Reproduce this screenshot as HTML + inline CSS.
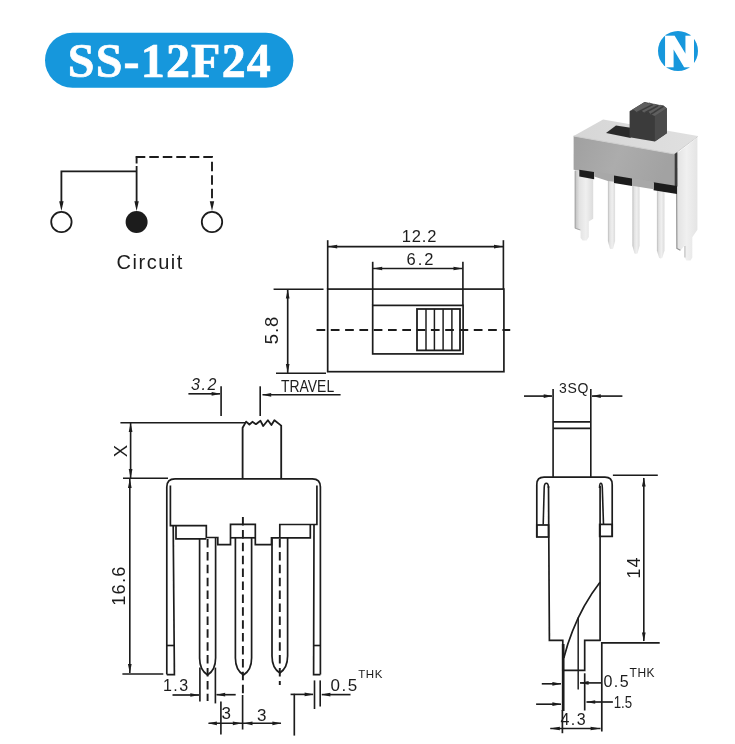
<!DOCTYPE html>
<html lang="en">
<head>
<meta charset="utf-8">
<title>SS-12F24</title>
<style>
html,body{margin:0;padding:0;background:#fff;}
body{width:735px;height:744px;overflow:hidden;position:relative;font-family:"Liberation Sans",Arial,sans-serif;}
svg{position:absolute;left:0;top:0;display:block;}
svg text{font-family:"Liberation Sans",Arial,sans-serif;}
</style>
</head>
<body>
<svg width="735" height="744" viewBox="0 0 735 744" stroke="#1c1c1c" fill="none" stroke-linecap="butt" stroke-linejoin="miter">
<defs><filter id="jp" x="0" y="0" width="735" height="744" filterUnits="userSpaceOnUse"><feGaussianBlur stdDeviation="0.35"/></filter></defs>
<g filter="url(#jp)">
<rect x="45" y="32.8" width="248.4" height="55" rx="27.5" ry="27.5" fill="#1597dc" stroke="none"/>
<text x="169.9" y="76.5" text-anchor="middle" stroke="#fff" stroke-width="0.7" fill="#fff" style="font-family:'Liberation Serif',serif;font-weight:bold;font-size:48px;letter-spacing:1.2px;">SS-12F24</text>
<circle cx="678" cy="51" r="20" fill="#1597dc" stroke="none"/>
<text transform="translate(679.6 66.4) scale(1.04 1)" x="0" y="0" text-anchor="middle" stroke="#fff" stroke-width="2.7" stroke-linejoin="miter" fill="#fff" style="font-family:'Liberation Sans',sans-serif;font-weight:bold;font-size:42.7px;">N</text>
<defs>
<filter id="soft" x="-5%" y="-5%" width="110%" height="110%"><feGaussianBlur stdDeviation="0.55"/></filter>
<linearGradient id="gFront" x1="0" y1="0" x2="1" y2="0.2">
<stop offset="0" stop-color="#a0a0a0"/><stop offset="0.5" stop-color="#acacac"/><stop offset="1" stop-color="#a2a2a2"/></linearGradient>
<linearGradient id="gTop" x1="0" y1="0" x2="1" y2="0">
<stop offset="0" stop-color="#d6d6d6"/><stop offset="1" stop-color="#e0e0e0"/></linearGradient>
<linearGradient id="gPin" x1="0" y1="0" x2="1" y2="0">
<stop offset="0" stop-color="#bdbdbd"/><stop offset="0.25" stop-color="#e2e2e2"/><stop offset="0.6" stop-color="#efefef"/><stop offset="1" stop-color="#dcdcdc"/></linearGradient>
<linearGradient id="gSide" x1="0" y1="0" x2="1" y2="0">
<stop offset="0" stop-color="#e0e0e0"/><stop offset="0.5" stop-color="#f0f0f0"/><stop offset="1" stop-color="#e4e4e4"/></linearGradient>
</defs>
<g filter="url(#soft)" stroke="none">
<polygon points="675.6,154.5 697.4,137.5 697.4,229.7 692.3,237.3 692.3,257.5 690.6,260.6 686.4,260.6 684.8,257.5 684.8,245.2 680.5,250.6 676.4,248.6" fill="url(#gSide)"/>
<polyline points="676.6,168.0 676.9,248.4 680.4,250.2" fill="none" stroke="#909090" stroke-width="1.1"/>
<polyline points="684.9,246.0 684.9,257.5" fill="none" stroke="#b0b0b0" stroke-width="0.9"/>
<polygon points="574.8,170.3 593.2,173.0 593.2,218.8 588.8,221.6 588.8,237.0 586.6,240.6 582.6,240.6 580.6,238.0 580.6,230.2 574.8,228.4" fill="url(#gPin)"/>
<polyline points="575.2,171.0 575.2,228.2 580.4,230.0" fill="none" stroke="#a6a6a6" stroke-width="1"/>
<path d="M607.9 178 H615.1 V241 L613.1 248.4 Q611.5 249.6 609.9 248.4 L607.9 241 Z" fill="url(#gPin)"/>
<path d="M632.4 183 H639.6 V245.8 L637.6 253.20000000000002 Q636.0 254.4 634.4 253.20000000000002 L632.4 245.8 Z" fill="url(#gPin)"/>
<path d="M656.9 188 H664.5 V250.39999999999998 L662.3000000000001 257.79999999999995 Q660.7 259.0 659.1 257.79999999999995 L656.9 250.39999999999998 Z" fill="url(#gPin)"/>
<polygon points="573.6,136.0 603.1,119.4 697.8,136.0 674.5,154.4" fill="url(#gTop)"/>
<polygon points="573.6,136.0 674.5,154.0 674.5,186.4 573.6,169.7" fill="url(#gFront)"/>
<polyline points="573.6,136.0 674.5,154.0 697.8,136.5" fill="none" stroke="#cfcfcf" stroke-width="1"/>
<polygon points="674.5,154.0 677.4,152.1 677.4,186.4 674.5,186.4" fill="#3a3a3a"/>
<polygon points="579.3,169.7 594.1,172.1 594.1,179.2 579.3,176.5" fill="#1e1e1e"/>
<polygon points="614.0,175.4 632.0,178.4 632.0,186.0 614.0,183.0" fill="#1e1e1e"/>
<polygon points="653.6,182.2 677.0,186.0 677.0,194.0 653.6,190.2" fill="#1e1e1e"/>
<polygon points="594.1,171.2 614.0,174.6 614.0,181.7 607.9,181.1 594.1,176.5" fill="#a8a8a8"/>
<polygon points="632.0,177.9 653.6,181.7 653.6,189.3 632.0,185.7" fill="#a8a8a8"/>
<polygon points="606.0,133.1 616.0,125.5 630.7,127.8 630.7,137.9" fill="#2c2c2c"/>
<polygon points="629.6,111.3 644.6,101.9 663.6,105.7 666.8,108.3 666.8,133.3 654.8,141.6 629.6,137.2" fill="#3a3a3a"/>
<polygon points="654.8,115.7 666.8,108.3 666.8,133.3 654.8,141.6" fill="#4b4b4b"/>
<polygon points="629.6,111.3 644.6,101.9 647.6,103.5 649.7,102.6 652.7,104.6 654.8,103.7 657.9,105.7 660.1,104.8 663.6,105.7 666.8,108.3 654.8,115.9 650.8,114.4 648.1,111.3 644.6,113.0 641.0,110.2 637.2,112.4 633.7,109.7" fill="#5e5e5e"/>
<polyline points="637.2,112.4 652.7,104.6" fill="none" stroke="#3c3c3c" stroke-width="1.6"/>
<polyline points="644.6,113.0 657.9,105.7" fill="none" stroke="#3c3c3c" stroke-width="1.6"/>
<polyline points="650.8,114.4 663.6,106.1" fill="none" stroke="#3c3c3c" stroke-width="1.6"/>
</g>
<circle cx="61.4" cy="222" r="10.2" fill="#fff" stroke-width="1.8"/>
<circle cx="136.6" cy="222" r="11" fill="#1c1c1c" stroke="none"/>
<circle cx="212" cy="222" r="10.2" fill="#fff" stroke-width="1.8"/>
<path d="M61.4 205 V171.4 H136.6" stroke-width="1.81" fill="none"/>
<line x1="136.6" y1="166" x2="136.6" y2="205" stroke-width="1.81"/>
<path d="M135.8 157 H212 V205" stroke-width="1.92" fill="none" stroke-dasharray="9.5 4"/>
<line x1="136.6" y1="156.2" x2="136.6" y2="163.5" stroke-width="1.92"/>
<polygon points="61.40,211.00 59.20,201.20 63.60,201.20" fill="#1c1c1c" stroke="none"/>
<polygon points="136.60,211.00 134.40,201.20 138.80,201.20" fill="#1c1c1c" stroke="none"/>
<polygon points="212.00,211.00 209.80,201.20 214.20,201.20" fill="#1c1c1c" stroke="none"/>
<text x="150.2" y="268.6" text-anchor="middle" style="font-size:20px;letter-spacing:1.5px;" stroke="none" fill="#1c1c1c">Circuit</text>
<rect x="327.7" y="289.1" width="176.2" height="82.6" stroke-width="1.7"/>
<rect x="372.7" y="305.4" width="90.4" height="48.5" stroke-width="1.7"/>
<rect x="417" y="309" width="43" height="41.4" stroke-width="1.8"/>
<line x1="426" y1="309" x2="426" y2="350.4" stroke-width="1.47"/>
<line x1="434.4" y1="309" x2="434.4" y2="350.4" stroke-width="1.47"/>
<line x1="443.1" y1="309" x2="443.1" y2="350.4" stroke-width="1.47"/>
<line x1="451.9" y1="309" x2="451.9" y2="350.4" stroke-width="1.47"/>
<line x1="316.5" y1="330" x2="510.2" y2="330" stroke-width="1.92" stroke-dasharray="8.7 5.6"/>
<line x1="327.7" y1="240.2" x2="327.7" y2="289" stroke-width="1.64"/>
<line x1="503.4" y1="240.2" x2="503.4" y2="289" stroke-width="1.64"/>
<line x1="328" y1="246.6" x2="503" y2="246.6" stroke-width="1.64"/>
<polygon points="328.20,246.60 337.20,244.75 337.20,248.45" fill="#1c1c1c" stroke="none"/>
<polygon points="503.00,246.60 494.00,244.75 494.00,248.45" fill="#1c1c1c" stroke="none"/>
<text x="419.5" y="242.4" text-anchor="middle" style="font-size:16.5px;letter-spacing:0.8px;" stroke="none" fill="#1c1c1c">12.2</text>
<line x1="372.7" y1="261.8" x2="372.7" y2="305" stroke-width="1.64"/>
<line x1="462.9" y1="261.8" x2="462.9" y2="305" stroke-width="1.64"/>
<line x1="373" y1="268.5" x2="462.5" y2="268.5" stroke-width="1.64"/>
<polygon points="373.20,268.50 382.20,266.65 382.20,270.35" fill="#1c1c1c" stroke="none"/>
<polygon points="462.50,268.50 453.50,266.65 453.50,270.35" fill="#1c1c1c" stroke="none"/>
<text x="421" y="265.3" text-anchor="middle" style="font-size:16.5px;letter-spacing:2px;" stroke="none" fill="#1c1c1c">6.2</text>
<line x1="273.6" y1="289.2" x2="323.5" y2="289.2" stroke-width="1.64"/>
<line x1="276" y1="373.3" x2="326" y2="373.3" stroke-width="1.64"/>
<line x1="287.7" y1="290" x2="287.7" y2="373" stroke-width="1.64"/>
<polygon points="287.70,289.60 285.85,298.60 289.55,298.60" fill="#1c1c1c" stroke="none"/>
<polygon points="287.70,373.00 285.85,364.00 289.55,364.00" fill="#1c1c1c" stroke="none"/>
<text x="278.3" y="330" text-anchor="middle" style="font-size:18.5px;letter-spacing:1px;" stroke="none" fill="#1c1c1c" transform="rotate(-90 278.3 330)">5.8</text>
<text x="0" y="0" text-anchor="middle" style="font-size:16px;" stroke="none" fill="#1c1c1c" transform="translate(307.6 391.8) scale(0.87 1)">TRAVEL</text>
<line x1="262.5" y1="394.8" x2="340.6" y2="394.8" stroke-width="1.64"/>
<polygon points="262.20,394.80 271.20,392.95 271.20,396.65" fill="#1c1c1c" stroke="none"/>
<line x1="260.2" y1="386.3" x2="260.2" y2="416" stroke-width="1.64"/>
<line x1="221.1" y1="386.3" x2="221.1" y2="416" stroke-width="1.64"/>
<line x1="188.4" y1="393.8" x2="220" y2="393.8" stroke-width="1.64"/>
<polygon points="220.60,393.80 211.60,391.95 211.60,395.65" fill="#1c1c1c" stroke="none"/>
<text x="204.6" y="390.4" text-anchor="middle" style="font-size:16px;letter-spacing:1.6px;font-style:italic;" stroke="none" fill="#1c1c1c">3.2</text>
<path d="M242.6 478.5 V427.8 L246.1 421.6 L249.4 424.5 L252.4 421.8 L255.9 424.2 L260.5 420.8 L263.2 426 L267.9 420.2 L271.4 425 L274.4 420.2 L281.2 425.6 V478.5" stroke-width="1.81" fill="none" stroke-linejoin="round"/>
<line x1="120.4" y1="422.7" x2="245" y2="422.7" stroke-width="1.64"/>
<line x1="123" y1="478.3" x2="168" y2="478.3" stroke-width="1.64"/>
<line x1="130.6" y1="423" x2="130.6" y2="478" stroke-width="1.64"/>
<polygon points="130.60,423.00 128.75,432.00 132.45,432.00" fill="#1c1c1c" stroke="none"/>
<polygon points="130.60,478.00 128.75,469.00 132.45,469.00" fill="#1c1c1c" stroke="none"/>
<text x="126.8" y="451" text-anchor="middle" style="font-size:18.5px;" stroke="none" fill="#1c1c1c" transform="rotate(-90 126.8 451)">X</text>
<path d="M166.8 674.6 V487 Q166.8 478.8 175 478.8 H312.3 Q320.4 478.8 320.4 487 V674.6" stroke-width="1.69" fill="none"/>
<path d="M170.4 485.5 V525.7 H206.3 V537.5 H217.8 V544.7 H230.5 V524.3 H255.3 V544.7 H271.5 V537.8 H279.8 V524.5 H316.9 V485.5" stroke-width="1.69" fill="none"/>
<path d="M166.8 674.6 H174.4 L173.2 525.7" stroke-width="1.69" fill="none"/>
<line x1="166.8" y1="645.5" x2="174.4" y2="645.5" stroke-width="1.64"/>
<path d="M320.4 674.6 H313.6 L314 524.5" stroke-width="1.69" fill="none"/>
<line x1="313.7" y1="645.5" x2="320.4" y2="645.5" stroke-width="1.64"/>
<path d="M176 525.7 V538.9 H206.3" stroke-width="1.69" fill="none"/>
<line x1="230.5" y1="537.8" x2="255.3" y2="537.8" stroke-width="1.69"/>
<path d="M279.8 537.8 H310.3 V524.5" stroke-width="1.69" fill="none"/>
<path d="M199.6 538 V658 Q199.6 670 207.6 675 Q215.6 670 215.6 658 V538" stroke-width="1.69" fill="none"/>
<path d="M235.4 538 V658 Q235.4 670 243.5 675 Q251.6 670 251.6 658 V538" stroke-width="1.69" fill="none"/>
<path d="M272 538 V656 Q272 668 279.8 673 Q287.6 668 287.6 656 V538" stroke-width="1.69" fill="none"/>
<line x1="207.6" y1="539" x2="207.6" y2="701" stroke-width="1.92" stroke-dasharray="8.5 4.4"/>
<line x1="242.9" y1="517" x2="242.9" y2="696" stroke-width="1.92" stroke-dasharray="8.5 4.4"/>
<line x1="279.8" y1="539" x2="279.8" y2="685" stroke-width="1.92" stroke-dasharray="8.5 4.4"/>
<line x1="122.4" y1="674" x2="163.3" y2="674" stroke-width="1.64"/>
<line x1="129.8" y1="479" x2="129.8" y2="673" stroke-width="1.64"/>
<polygon points="129.80,479.00 127.95,488.00 131.65,488.00" fill="#1c1c1c" stroke="none"/>
<polygon points="129.80,673.00 127.95,664.00 131.65,664.00" fill="#1c1c1c" stroke="none"/>
<text x="125.2" y="585.6" text-anchor="middle" style="font-size:18.2px;letter-spacing:1.2px;" stroke="none" fill="#1c1c1c" transform="rotate(-90 125.2 585.6)">16.6</text>
<text x="176.3" y="691.4" text-anchor="middle" style="font-size:16px;letter-spacing:1.5px;" stroke="none" fill="#1c1c1c">1.3</text>
<line x1="172.5" y1="695" x2="199" y2="695" stroke-width="1.64"/>
<polygon points="199.30,695.00 190.30,693.15 190.30,696.85" fill="#1c1c1c" stroke="none"/>
<line x1="199.9" y1="667.6" x2="199.9" y2="701.5" stroke-width="1.64"/>
<line x1="215.4" y1="667.6" x2="215.4" y2="703.4" stroke-width="1.64"/>
<polygon points="216.20,694.70 225.20,692.85 225.20,696.55" fill="#1c1c1c" stroke="none"/>
<line x1="216.5" y1="694.7" x2="235.7" y2="694.7" stroke-width="1.64"/>
<line x1="220.9" y1="701.6" x2="220.9" y2="734.6" stroke-width="1.64"/>
<line x1="242.6" y1="695" x2="242.6" y2="729.5" stroke-width="1.64"/>
<line x1="208.5" y1="723.3" x2="281" y2="723.3" stroke-width="1.64"/>
<polygon points="207.90,723.30 216.90,721.45 216.90,725.15" fill="#1c1c1c" stroke="none"/>
<polygon points="241.80,723.30 232.80,721.45 232.80,725.15" fill="#1c1c1c" stroke="none"/>
<polygon points="243.50,723.30 252.50,721.45 252.50,725.15" fill="#1c1c1c" stroke="none"/>
<polygon points="281.40,723.30 272.40,721.45 272.40,725.15" fill="#1c1c1c" stroke="none"/>
<text x="226.2" y="719.3" text-anchor="middle" style="font-size:17px;" stroke="none" fill="#1c1c1c">3</text>
<text x="261.7" y="720.8" text-anchor="middle" style="font-size:17px;" stroke="none" fill="#1c1c1c">3</text>
<line x1="294.3" y1="693.8" x2="294.3" y2="735.6" stroke-width="1.64"/>
<line x1="290.6" y1="694.4" x2="313" y2="694.4" stroke-width="1.64"/>
<polygon points="313.60,694.40 304.60,692.55 304.60,696.25" fill="#1c1c1c" stroke="none"/>
<line x1="314.5" y1="680.4" x2="314.5" y2="709" stroke-width="1.64"/>
<line x1="320.2" y1="680.4" x2="320.2" y2="706.5" stroke-width="1.64"/>
<polygon points="321.40,694.60 330.40,692.75 330.40,696.45" fill="#1c1c1c" stroke="none"/>
<line x1="321.8" y1="694.6" x2="350.5" y2="694.6" stroke-width="1.64"/>
<text x="344.6" y="690.5" text-anchor="middle" style="font-size:17px;letter-spacing:1.5px;" stroke="none" fill="#1c1c1c">0.5</text>
<text x="370.6" y="677.6" text-anchor="middle" style="font-size:11.5px;letter-spacing:0.6px;" stroke="none" fill="#1c1c1c">THK</text>
<line x1="553.1" y1="389" x2="553.1" y2="477" stroke-width="1.64"/>
<line x1="590.8" y1="389" x2="590.8" y2="477" stroke-width="1.64"/>
<line x1="524" y1="396.1" x2="552" y2="396.1" stroke-width="1.64"/>
<polygon points="552.70,396.10 543.70,394.25 543.70,397.95" fill="#1c1c1c" stroke="none"/>
<line x1="592" y1="396.1" x2="622.4" y2="396.1" stroke-width="1.64"/>
<polygon points="591.80,396.10 600.80,394.25 600.80,397.95" fill="#1c1c1c" stroke="none"/>
<text x="574" y="392.6" text-anchor="middle" style="font-size:14px;letter-spacing:0.7px;" stroke="none" fill="#1c1c1c">3SQ</text>
<line x1="553.1" y1="421.9" x2="590.8" y2="421.9" stroke-width="1.69"/>
<line x1="553.1" y1="428.4" x2="590.8" y2="428.4" stroke-width="1.69"/>
<path d="M536.8 537 V484.5 Q536.8 477.2 544 477.2 H605 Q612.2 477.2 612.2 484.5 V537" stroke-width="1.69" fill="none"/>
<rect x="536.8" y="525" width="11.7" height="12" stroke-width="1.7"/>
<rect x="599.7" y="524.4" width="12.5" height="12" stroke-width="1.7"/>
<path d="M543.2 524.6 L544.2 487.5 Q544.4 483.3 546.3 483.3 Q548.4 483.3 548.5 488" stroke-width="1.58" fill="none"/>
<path d="M599.5 488 Q599.6 483.3 600.9 483.3 Q602.2 483.3 602.3 487.5 L603.5 524.6" stroke-width="1.58" fill="none"/>
<path d="M548.5 486 L549.4 640.3 H562.8 V670.4 H584.7 V640.3 H600.1 V486" stroke-width="1.69" fill="none"/>
<path d="M600 582.2 Q575.1 614.3 563.8 658" stroke-width="1.69" fill="none"/>
<line x1="578.2" y1="617.5" x2="578.2" y2="689.5" stroke-width="1.47"/>
<line x1="563.2" y1="644" x2="563.2" y2="711" stroke-width="2.71"/>
<line x1="562.4" y1="710" x2="562.4" y2="733.2" stroke-width="1.69"/>
<line x1="584.7" y1="673.3" x2="584.7" y2="710.5" stroke-width="1.64"/>
<path d="M601.8 731.5 V642.9 H659.7" stroke-width="1.69" fill="none"/>
<line x1="612.9" y1="475.3" x2="657.8" y2="475.3" stroke-width="1.64"/>
<line x1="643.8" y1="478" x2="643.8" y2="641" stroke-width="1.64"/>
<polygon points="643.80,477.60 641.95,486.60 645.65,486.60" fill="#1c1c1c" stroke="none"/>
<polygon points="643.80,641.50 641.95,632.50 645.65,632.50" fill="#1c1c1c" stroke="none"/>
<text x="640" y="567.6" text-anchor="middle" style="font-size:18px;letter-spacing:1px;" stroke="none" fill="#1c1c1c" transform="rotate(-90 640 567.6)">14</text>
<line x1="541.8" y1="683.8" x2="561" y2="683.8" stroke-width="1.64"/>
<polygon points="561.40,683.80 552.40,681.95 552.40,685.65" fill="#1c1c1c" stroke="none"/>
<polygon points="579.60,682.90 588.60,681.05 588.60,684.75" fill="#1c1c1c" stroke="none"/>
<line x1="580" y1="682.9" x2="602" y2="682.9" stroke-width="1.64"/>
<text x="616.8" y="687" text-anchor="middle" style="font-size:16px;letter-spacing:1.5px;" stroke="none" fill="#1c1c1c">0.5</text>
<text x="642.3" y="677.1" text-anchor="middle" style="font-size:12px;letter-spacing:0.5px;" stroke="none" fill="#1c1c1c">THK</text>
<line x1="536.1" y1="704.2" x2="561" y2="704.2" stroke-width="1.64"/>
<polygon points="561.40,704.20 552.40,702.35 552.40,706.05" fill="#1c1c1c" stroke="none"/>
<polygon points="586.20,702.00 595.20,700.15 595.20,703.85" fill="#1c1c1c" stroke="none"/>
<line x1="586.5" y1="702" x2="612.9" y2="702" stroke-width="1.64"/>
<text x="0" y="0" text-anchor="middle" style="font-size:15.6px;" stroke="none" fill="#1c1c1c" transform="translate(622.9 707.6) scale(0.85 1)">1.5</text>
<text x="573.8" y="725.1" text-anchor="middle" style="font-size:16px;letter-spacing:1.5px;" stroke="none" fill="#1c1c1c">4.3</text>
<line x1="550.3" y1="728.5" x2="600.5" y2="728.5" stroke-width="1.64"/>
<polygon points="549.80,728.50 559.80,726.65 559.80,730.35" fill="#1c1c1c" stroke="none"/>
<polygon points="600.60,728.50 590.60,726.65 590.60,730.35" fill="#1c1c1c" stroke="none"/>
</g>
</svg>
</body>
</html>
